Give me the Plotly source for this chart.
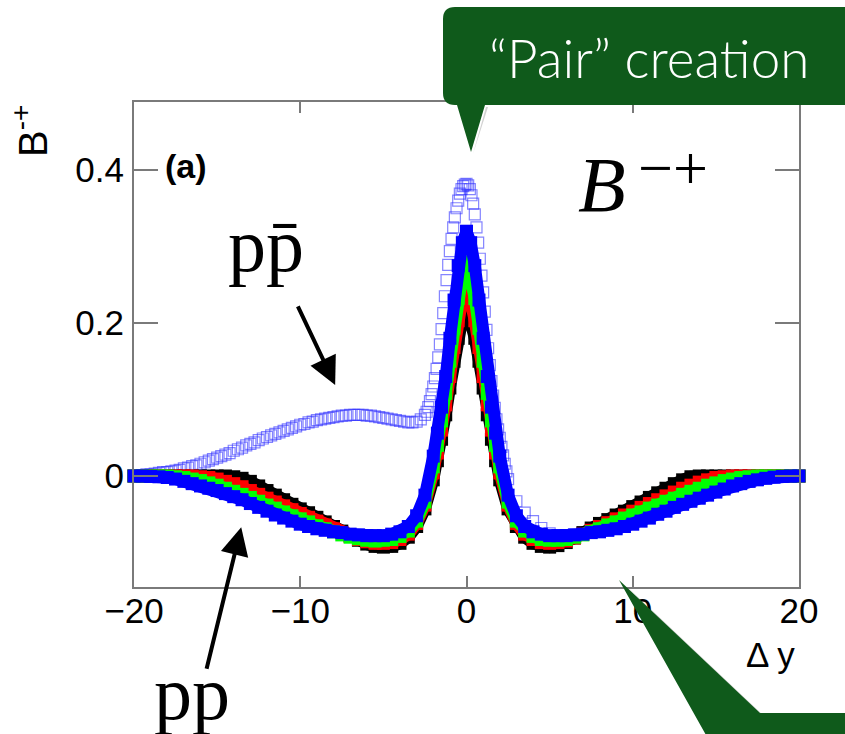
import plotly.graph_objects as go

# ---------------- data ----------------
X_FILLED = [-20, -19.5, -19, -18.5, -18, -17.5, -17, -16.5, -16, -15.5,
            -15, -14.5, -14, -13.5, -13, -12.5, -12, -11.5, -11, -10.5,
            -10, -9.5, -9, -8.5, -8, -7.5, -7, -6.5, -6, -5.5,
            -5, -4.5, -4, -3.5, -3, -2.5,
            -2, -1.75, -1.5, -1.25, -1, -0.75, -0.5, -0.25,
            0, 0.25, 0.5, 0.75, 1, 1.25, 1.5, 1.75, 2,
            2.5, 3, 3.5, 4, 4.5, 5, 5.5, 6, 6.5, 7,
            7.5, 8, 8.5, 9, 9.5, 10, 10.5, 11, 11.5, 12,
            12.5, 13, 13.5, 14, 14.5, 15, 15.5, 16, 16.5, 17,
            17.5, 18, 18.5, 19, 19.5, 20]

B_BLACK = [0, 0, 0, 0, 0, 0, 0, 0, 0, 0,
           0, 0, -0.001, -0.003, -0.007, -0.013, -0.019, -0.025, -0.031, -0.037,
           -0.043, -0.048, -0.054, -0.060, -0.066, -0.072, -0.078, -0.084, -0.089, -0.092,
           -0.093, -0.092, -0.088, -0.080, -0.066, -0.043,
           -0.005, 0.020, 0.048, 0.080, 0.115, 0.150, 0.180, 0.205,
           0.220, 0.205, 0.180, 0.150, 0.115, 0.080, 0.048, 0.020, -0.005,
           -0.043, -0.066, -0.080, -0.088, -0.092, -0.093, -0.091, -0.087, -0.081, -0.074,
           -0.068, -0.062, -0.057, -0.051, -0.046, -0.040, -0.034, -0.028, -0.022, -0.016,
           -0.010, -0.005, -0.001, 0, 0, 0, 0, 0, 0, 0,
           0, 0, 0, 0, 0, 0]

B_RED = [0, 0, 0, 0, 0, 0, 0, 0, -0.001, -0.002,
         -0.004, -0.007, -0.010, -0.014, -0.019, -0.024, -0.029, -0.034, -0.039, -0.044,
         -0.049, -0.054, -0.059, -0.064, -0.069, -0.074, -0.079, -0.083, -0.086, -0.088,
         -0.088, -0.087, -0.083, -0.076, -0.062, -0.038,
         0.004, 0.030, 0.060, 0.093, 0.130, 0.168, 0.203, 0.232,
         0.250, 0.232, 0.203, 0.168, 0.130, 0.093, 0.060, 0.030, 0.004,
         -0.038, -0.062, -0.076, -0.083, -0.087, -0.088, -0.087, -0.085, -0.081, -0.076,
         -0.071, -0.066, -0.061, -0.056, -0.051, -0.046, -0.041, -0.036, -0.031, -0.026,
         -0.021, -0.016, -0.012, -0.008, -0.005, -0.002, -0.001, 0, 0, 0,
         0, 0, 0, 0, 0, 0]

B_GREEN = [0, 0, 0, 0, 0, -0.001, -0.002, -0.004, -0.006, -0.009,
           -0.012, -0.016, -0.020, -0.024, -0.028, -0.033, -0.038, -0.042, -0.047, -0.052,
           -0.056, -0.060, -0.065, -0.069, -0.073, -0.077, -0.080, -0.082, -0.084, -0.085,
           -0.084, -0.083, -0.079, -0.072, -0.059, -0.034,
           0.012, 0.040, 0.072, 0.108, 0.150, 0.193, 0.232, 0.262,
           0.280, 0.262, 0.232, 0.193, 0.150, 0.108, 0.072, 0.040, 0.012,
           -0.034, -0.059, -0.072, -0.079, -0.083, -0.084, -0.084, -0.083, -0.080, -0.077,
           -0.073, -0.069, -0.064, -0.060, -0.055, -0.051, -0.047, -0.042, -0.038, -0.033,
           -0.029, -0.024, -0.020, -0.016, -0.012, -0.009, -0.006, -0.004, -0.002, -0.001,
           0, 0, 0, 0, 0, 0]

B_BLUE = [0, 0, -0.0005, -0.001, -0.002, -0.004, -0.007, -0.010, -0.013, -0.016,
          -0.019, -0.023, -0.027, -0.031, -0.036, -0.041, -0.046, -0.051, -0.055, -0.059,
          -0.063, -0.066, -0.069, -0.071, -0.073, -0.074, -0.076, -0.077, -0.078, -0.078,
          -0.078, -0.076, -0.073, -0.066, -0.052, -0.025,
          0.026, 0.056, 0.090, 0.130, 0.180, 0.230, 0.275, 0.305,
          0.320, 0.305, 0.275, 0.230, 0.180, 0.130, 0.090, 0.056, 0.026,
          -0.025, -0.052, -0.066, -0.073, -0.076, -0.078, -0.078, -0.078, -0.077, -0.076,
          -0.074, -0.073, -0.071, -0.069, -0.066, -0.063, -0.059, -0.055, -0.050, -0.046,
          -0.041, -0.037, -0.033, -0.029, -0.025, -0.021, -0.017, -0.013, -0.010, -0.007,
          -0.005, -0.003, -0.0015, -0.0005, 0, 0]

X_PPBAR = [-20, -19.75, -19.5, -19.25, -19, -18.75, -18.5, -18.25, -18, -17.75,
           -17.5, -17.25, -17, -16.75, -16.5, -16.25, -16, -15.75, -15.5, -15.25,
           -15, -14.75, -14.5, -14.25, -14, -13.75, -13.5, -13.25, -13, -12.75,
           -12.5, -12.25, -12, -11.75, -11.5, -11.25, -11, -10.75, -10.5, -10.25,
           -10, -9.75, -9.5, -9.25, -9, -8.75, -8.5, -8.25, -8, -7.75,
           -7.5, -7.25, -7, -6.75, -6.5, -6.25, -6, -5.75, -5.5, -5.25,
           -5, -4.75, -4.5, -4.25, -4, -3.75, -3.5, -3.25, -3, -2.75,
           -2.5, -2.4, -2.3, -2.2, -2.1, -2.0, -1.9, -1.8, -1.7, -1.6,
           -1.5, -1.4, -1.3, -1.2, -1.1, -1.0, -0.9, -0.8, -0.7, -0.6,
           -0.5, -0.4, -0.3, -0.2, -0.1, 0.0, 0.1, 0.2, 0.3, 0.4,
           0.5, 0.6, 0.7, 0.8, 0.9, 1.0, 1.1, 1.2, 1.3, 1.4,
           1.5, 1.6, 1.7, 1.8, 1.9, 2.0, 2.1, 2.2, 2.3, 2.4, 2.5,
           3, 3.5, 4, 4.5, 5, 5.5, 6, 6.5, 7, 7.5,
           8, 8.5, 9, 9.5, 10, 10.5, 11, 11.5, 12, 12.5,
           13, 13.5, 14, 14.5, 15, 15.5, 16, 16.5, 17, 17.5,
           18, 18.5, 19, 19.5, 20]

B_PPBAR = [0.000, 0.001, 0.001, 0.002, 0.002, 0.003, 0.004, 0.005, 0.005, 0.006,
           0.007, 0.008, 0.010, 0.011, 0.013, 0.014, 0.016, 0.018, 0.020, 0.022,
           0.024, 0.026, 0.028, 0.030, 0.033, 0.035, 0.037, 0.040, 0.042, 0.044,
           0.047, 0.049, 0.051, 0.053, 0.055, 0.057, 0.059, 0.061, 0.063, 0.065,
           0.067, 0.068, 0.070, 0.071, 0.073, 0.074, 0.075, 0.076, 0.077, 0.078,
           0.079, 0.079, 0.080, 0.080, 0.080, 0.080, 0.079, 0.079, 0.078, 0.077,
           0.076, 0.075, 0.074, 0.073, 0.072, 0.071, 0.070, 0.070, 0.071, 0.074,
           0.080, 0.084, 0.090, 0.098, 0.107, 0.117, 0.128, 0.140, 0.155, 0.172,
           0.192, 0.213, 0.235, 0.256, 0.276, 0.294, 0.310, 0.325, 0.338, 0.350,
           0.360, 0.369, 0.375, 0.379, 0.381, 0.382, 0.380, 0.375, 0.367, 0.356,
           0.342, 0.325, 0.305, 0.284, 0.262, 0.240, 0.215, 0.191, 0.167, 0.145,
           0.124, 0.105, 0.089, 0.074, 0.061, 0.050, 0.038, 0.027, 0.016, 0.006, -0.004,
           -0.033, -0.048, -0.059, -0.068, -0.075, -0.078, -0.078, -0.077, -0.076, -0.074,
           -0.073, -0.071, -0.069, -0.066, -0.063, -0.059, -0.055, -0.050, -0.046, -0.041,
           -0.037, -0.033, -0.029, -0.025, -0.021, -0.017, -0.013, -0.010, -0.007, -0.005,
           -0.003, -0.0015, -0.0005, 0, 0]

X_TICKS = [-20, -10, 0, 10, 20]
Y_TICKS = [0, 0.2, 0.4]

# ---------------- styling ----------------
SANS = "Liberation Sans, Arial, Helvetica, sans-serif"
SERIF = "Liberation Serif, Times New Roman, serif"
AXIS_GRAY = "#7a7a7a"
CALLOUT = "#0f5a1b"

fig = go.Figure()

fig.add_trace(go.Scatter(
    x=X_PPBAR, y=B_PPBAR, mode="markers", cliponaxis=False,
    marker=dict(symbol="square-open", size=11, color="rgba(50,50,255,0.6)",
                line=dict(width=1.2, color="rgba(50,50,255,0.6)")),
    showlegend=False, hoverinfo="skip"))

for vals, col in [(B_BLACK, "#000000"), (B_RED, "#ff0000"),
                  (B_GREEN, "#00ff00"), (B_BLUE, "#0000ff")]:
    fig.add_trace(go.Scatter(
        x=X_FILLED, y=vals, mode="lines+markers", cliponaxis=False,
        line=dict(color=col, width=12),
        marker=dict(symbol="square", size=13, color=col, line=dict(width=0)),
        showlegend=False, hoverinfo="skip"))

axis_common = dict(
    showline=True, linecolor=AXIS_GRAY, linewidth=2, mirror="ticks",
    ticks="inside", tickcolor=AXIS_GRAY, tickwidth=2,
    showgrid=False, zeroline=False,
    tickfont=dict(family=SANS, size=35, color="#000000"),
)

fig.update_xaxes(range=[-20, 20], tickvals=X_TICKS, ticklen=11,
                 ticklabelstandoff=-8, **axis_common)
fig.update_yaxes(range=[-0.1451, 0.4889], tickvals=Y_TICKS, ticklen=24,
                 ticktext=["0", "0.2", "0.4"], ticklabelstandoff=1, **axis_common)

W, H = 845, 734
L, R, T, B = 134, 46, 102, 147
PW, PH = W - L - R, H - T - B


def px(x):
    return (x - L) / PW


def py(y):
    return (H - B - y) / PH


# callout shapes (paper coordinates)
rx, ry = 12 / PW, 12 / PH
x0, x1, y0, y1 = px(443), px(870), py(105), py(7)
top_path = (f"M{x0+rx},{y1} L{x1},{y1} L{x1},{y0} L{px(485)},{y0} "
            f"L{px(471)},{py(152)} L{px(457)},{y0} L{x0+rx},{y0} "
            f"Q{x0},{y0} {x0},{y0+ry} L{x0},{y1-ry} Q{x0},{y1} {x0+rx},{y1} Z")
bot_path = (f"M{px(619)},{py(580)} L{px(760)},{py(713)} L{px(870)},{py(713)} "
            f"L{px(870)},{py(760)} L{px(720)},{py(760)} Z")
shadow_top = (f"M{px(486)},{py(107)} L{px(473)},{py(154)} L{px(488)},{py(107)} Z")
shadow_bot = (f"M{px(621)},{py(581)} L{px(764)},{py(716)} L{px(870)},{py(716)} "
              f"L{px(870)},{py(719)} L{px(763)},{py(719)} Z")

fig.update_layout(shapes=[
    dict(type="path", path=shadow_top, xref="paper", yref="paper", layer="above",
         fillcolor="rgba(0,0,0,0.18)", line=dict(width=0)),
    dict(type="path", path=shadow_bot, xref="paper", yref="paper", layer="above",
         fillcolor="rgba(0,0,0,0.18)", line=dict(width=0)),
    dict(type="path", path=top_path, xref="paper", yref="paper", layer="above",
         fillcolor=CALLOUT, line=dict(width=0)),
    dict(type="path", path=bot_path, xref="paper", yref="paper", layer="above",
         fillcolor=CALLOUT, line=dict(width=0)),
])

ann = []
ann.append(dict(text="(a)", xref="paper", yref="paper", x=px(163), y=py(166),
                xanchor="left", yanchor="middle", showarrow=False,
                font=dict(family=SANS, size=34, color="#000", weight="bold")))
ann.append(dict(text="B", xref="paper", yref="paper",
                x=px(576), y=py(185), xanchor="left", yanchor="middle",
                showarrow=False,
                font=dict(family=SERIF, size=78, color="#000", style="italic")))
ann.append(dict(text="\u2212+", xref="paper", yref="paper",
                x=px(636), y=py(168), xanchor="left", yanchor="middle",
                showarrow=False, font=dict(family=SERIF, size=62, color="#000")))
ann.append(dict(text="pp\u0304", xref="paper", yref="paper", x=px(266), y=py(245),
                xanchor="center", yanchor="middle", showarrow=False,
                font=dict(family=SERIF, size=76, color="#000")))
ann.append(dict(text="pp", xref="paper", yref="paper", x=px(192), y=py(693),
                xanchor="center", yanchor="middle", showarrow=False,
                font=dict(family=SERIF, size=76, color="#000")))
ann.append(dict(text="\u0394 y", xref="paper", yref="paper", x=px(770), y=py(654),
                xanchor="center", yanchor="middle", showarrow=False,
                font=dict(family=SANS, size=35, color="#000")))
ann.append(dict(text="B<sup>-+</sup>", xref="paper", yref="paper", x=px(30), y=py(131),
                xanchor="center", yanchor="middle", textangle=-90, showarrow=False,
                font=dict(family=SANS, size=40, color="#000")))
ann.append(dict(text="\u201cPair\u201d creation", xref="paper", yref="paper",
                x=px(649), y=py(57), xanchor="center", yanchor="middle",
                showarrow=False,
                font=dict(family="Lato, Roboto, Liberation Sans, sans-serif",
                          size=53, color="#ffffff", weight=300)))
# arrows
ann.append(dict(text="", x=-7.9, y=0.119, xref="x", yref="y", ax=-38, ay=-80,
                showarrow=True, arrowhead=2, arrowsize=1.4, arrowwidth=4,
                arrowcolor="#000", standoff=0))
ann.append(dict(text="", x=-13.55, y=-0.067, xref="x", yref="y", ax=-35, ay=143,
                showarrow=True, arrowhead=2, arrowsize=1.4, arrowwidth=4,
                arrowcolor="#000", standoff=0))

fig.update_layout(
    width=W, height=H, autosize=False,
    margin=dict(l=L, r=R, t=T, b=B, pad=0),
    paper_bgcolor="#ffffff", plot_bgcolor="#ffffff",
    annotations=ann, showlegend=False,
)

fig.write_html("out.html", config={"displayModeBar": False})
